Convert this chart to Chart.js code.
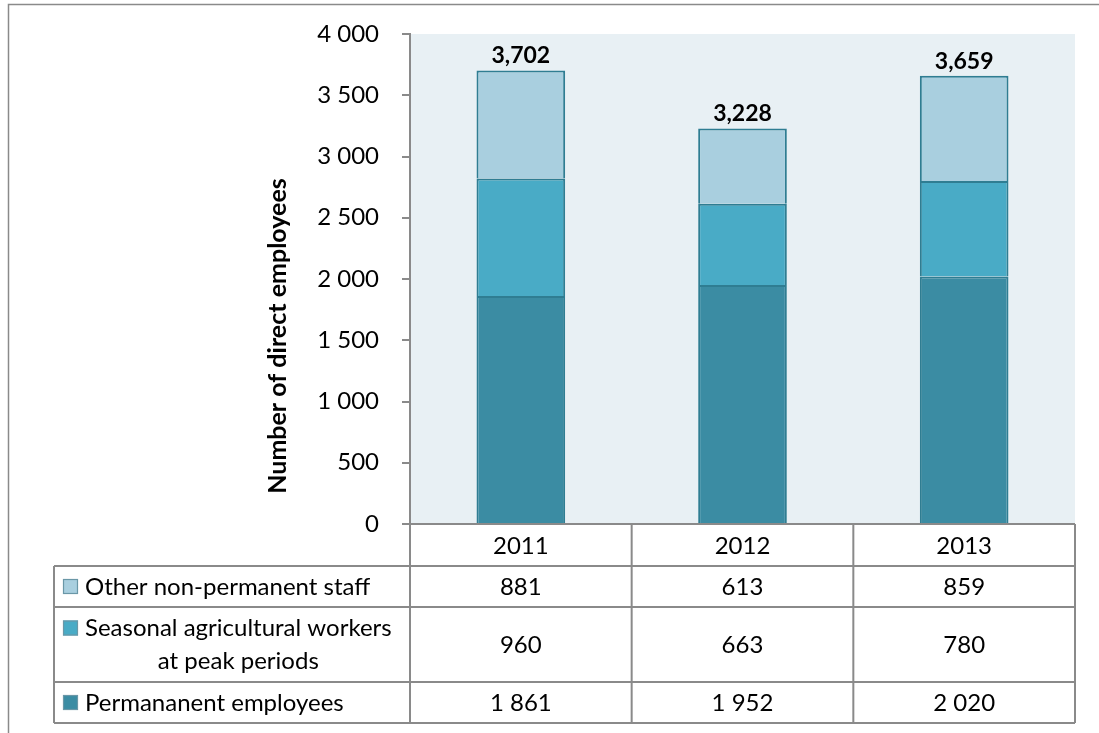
<!DOCTYPE html>
<html>
<head>
<meta charset="utf-8">
<script src="https://cdn.jsdelivr.net/npm/chart.js"></script>
<style>
  body { margin: 0; background: #fff; }
  #wrap { width: 1099px; height: 733px; }
</style>
</head>
<body>
<div id="wrap"><canvas id="myChart" width="1099" height="733"></canvas></div>
<script>
const years = ['2011', '2012', '2013'];
const permanent = [1861, 1952, 2020];
const seasonal = [960, 663, 780];
const otherStaff = [881, 613, 859];
const yTicks = [0, 500, 1000, 1500, 2000, 2500, 3000, 3500, 4000];

const FONT = 'Lato, Calibri, sans-serif';
const GRAY = '#8a8a8a';

const col_perm = '#3b8ca3';
const col_seas = '#49abc6';
const col_other = '#a9cfdf';
const col_edge = '#2f7d92';

// table rows, top to bottom
const tableRows = [
    { label: ['Other non-permanent staff'], values: otherStaff, color: col_other, h: 41 },
    { label: ['Seasonal agricultural workers', 'at peak periods'], values: seasonal, color: col_seas, h: 75 },
    { label: ['Permananent employees'], values: permanent, color: col_perm, h: 41 }
];

const spaced = n => String(n).replace(/\B(?=(\d{3})+(?!\d))/g, ' ');
const commas = n => String(n).replace(/\B(?=(\d{3})+(?!\d))/g, ',');

const frameAndTable = {
    id: 'frameAndTable',
    beforeDraw(chart) {
        const c = chart.ctx, a = chart.chartArea;
        c.save();
        c.fillStyle = '#fff';
        c.fillRect(0, 0, chart.width, chart.height);
        // outer frame
        c.strokeStyle = GRAY;
        c.lineWidth = 1.5;
        c.beginPath();
        c.moveTo(8.5, chart.height);
        c.lineTo(8.5, 4.5);
        c.lineTo(chart.width, 4.5);
        c.stroke();
        // plot background
        c.fillStyle = '#e8f0f4';
        c.fillRect(a.left, a.top, a.right - a.left, a.bottom - a.top);
        c.restore();
    },
    afterDatasetsDraw(chart) {
        const c = chart.ctx;
        const last = chart.getDatasetMeta(chart.data.datasets.length - 1);
        c.save();
        c.font = 'bold 23px ' + FONT;
        c.fillStyle = '#000';
        c.textAlign = 'center';
        c.textBaseline = 'bottom';
        years.forEach((y, i) => {
            const total = permanent[i] + seasonal[i] + otherStaff[i];
            const bar = last.data[i];
            c.fillText(commas(total), bar.x, bar.y - 3);
        });
        c.restore();
    },
    afterDraw(chart) {
        const c = chart.ctx, a = chart.chartArea;
        const xs = chart.scales.x;
        const colW = (a.right - a.left) / years.length;
        const tableLeft = 54;
        const headH = 42;
        c.save();

        // y axis title
        c.save();
        c.translate(278, 336);
        c.rotate(-Math.PI / 2);
        c.font = 'bold 25px ' + FONT;
        c.fillStyle = '#000';
        c.textAlign = 'center';
        c.textBaseline = 'middle';
        c.fillText('Number of direct employees', 0, 0);
        c.restore();

        const top = a.bottom;
        let bottom = top + headH;
        tableRows.forEach(r => bottom += r.h);

        c.strokeStyle = GRAY;
        c.lineWidth = 2;
        c.beginPath();
        // header top line and column separators
        c.moveTo(a.left, top); c.lineTo(a.right, top);
        for (let k = 0; k <= years.length; k++) {
            const x = a.left + k * colW;
            c.moveTo(x, top); c.lineTo(x, bottom);
        }
        c.moveTo(tableLeft, top + headH); c.lineTo(tableLeft, bottom);
        let y = top + headH;
        c.moveTo(tableLeft, y); c.lineTo(a.right, y);
        tableRows.forEach(r => {
            y += r.h;
            c.moveTo(tableLeft, y); c.lineTo(a.right, y);
        });
        c.stroke();

        c.fillStyle = '#000';
        c.font = '24px ' + FONT;
        c.textBaseline = 'middle';
        c.textAlign = 'center';
        years.forEach((yr, i) => c.fillText(yr, xs.getPixelForValue(i), top + headH / 2 + 1));

        y = top + headH;
        tableRows.forEach(r => {
            const mid = y + r.h / 2;
            c.textAlign = 'center';
            r.values.forEach((v, i) => c.fillText(spaced(v), xs.getPixelForValue(i), mid + 1));
            // legend key
            const keyY = r.label.length > 1 ? y + 21 : mid;
            const bx = 63, by = keyY - 7.5;
            c.fillStyle = r.color;
            c.fillRect(bx, by, 15, 15);
            c.strokeStyle = '#6a97a7';
            c.lineWidth = 1.2;
            c.strokeRect(bx + 0.5, by + 0.5, 14, 14);
            c.fillStyle = '#000';
            if (r.label.length === 1) {
                c.textAlign = 'left';
                c.fillText(r.label[0], 85, mid + 1);
            } else {
                const w = c.measureText(r.label[0]).width;
                c.textAlign = 'left';
                c.fillText(r.label[0], 85, y + 21);
                c.textAlign = 'center';
                c.fillText(r.label[1], 85 + w / 2, y + 54);
            }
            y += r.h;
        });
        c.restore();
    }
};

const barStyle = { borderColor: col_edge, borderWidth: 2, barPercentage: 0.4, categoryPercentage: 1 };

new Chart(document.getElementById('myChart'), {
    type: 'bar',
    data: {
        labels: years,
        datasets: [
            { label: 'Permananent employees', data: permanent, backgroundColor: col_perm, ...barStyle },
            { label: 'Seasonal agricultural workers at peak periods', data: seasonal, backgroundColor: col_seas, ...barStyle },
            { label: 'Other non-permanent staff', data: otherStaff, backgroundColor: col_other, ...barStyle }
        ]
    },
    options: {
        responsive: false,
        animation: false,
        layout: { padding: { left: 0, top: 34, right: 24, bottom: 209 } },
        plugins: { legend: { display: false }, tooltip: { enabled: false } },
        scales: {
            x: { stacked: true, display: false },
            y: {
                stacked: true,
                min: 0,
                max: 4000,
                afterBuildTicks: s => { s.ticks = yTicks.map(v => ({ value: v })); },
                afterFit: s => { s.width = 410; s.paddingTop = 0; s.paddingBottom = 0; },
                ticks: { callback: v => spaced(v), color: '#000', font: { family: FONT, size: 24 }, padding: 23 },
                grid: { drawOnChartArea: false, tickLength: 8, color: GRAY, lineWidth: 2 },
                border: { color: GRAY, width: 2 }
            }
        }
    },
    plugins: [frameAndTable]
});
</script>
</body>
</html>
